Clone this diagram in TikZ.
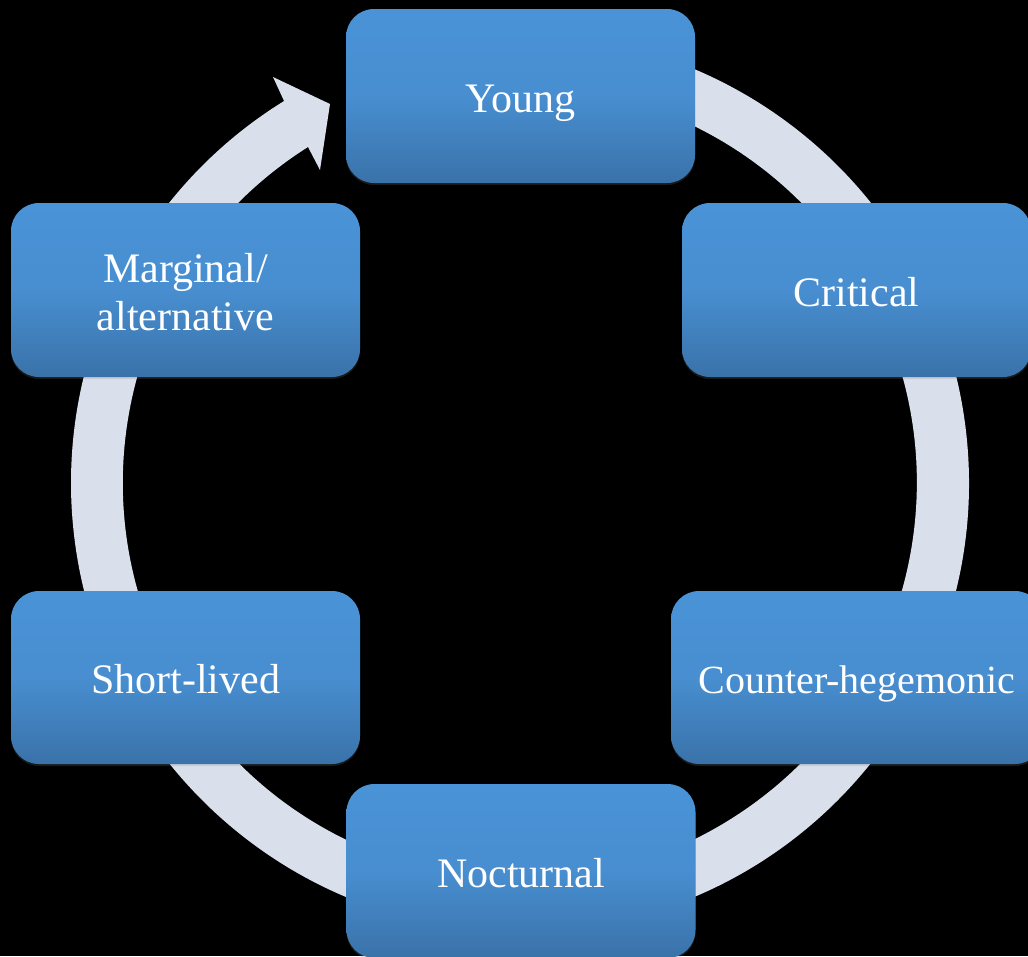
\documentclass[tikz,border=0pt]{standalone}
\usepackage{fontspec}
\setmainfont{Liberation Serif}
\usetikzlibrary{shadows}
\definecolor{ringc}{HTML}{DADFEC}
\definecolor{boxtop}{HTML}{4A93D7}
\definecolor{boxbot}{HTML}{3A72A9}
\tikzset{
  cyclebox/.style={rounded corners=28pt, minimum width=349pt, minimum height=174pt,
    top color=boxtop, bottom color=boxbot, middle color=boxtop!85!boxbot, draw=none, text=white,
    font=\fontsize{42}{48}\selectfont, align=center, inner sep=0pt,
    drop shadow={opacity=0.2, shadow xshift=0pt, shadow yshift=-2pt}},
  oneline/.style={text height=32pt, text depth=0pt},
  ring/.style={fill=ringc, draw=none}
}
\begin{document}
\begin{tikzpicture}[x=1pt,y=1pt]
\fill[black] (0,0) rectangle (1028,-956);
\useasboundingbox (0,0) rectangle (1028,-956);
\clip (0,0) rectangle (1028,-956);
\coordinate (c) at (520,-483);
% ring arrow
\fill[ring] (c) ++(95:449pt) arc[start angle=95, end angle=-238.3, radius=449pt]
  -- (273,-77) -- (330,-104) -- (320,-170) -- (308,-147)
  arc[start angle=-237.75, end angle=95, radius=397pt] -- cycle;
% boxes
\node[cyclebox, oneline] (young) at (520.5,-96) {Young};
\node[cyclebox, oneline] (critical) at (856.5,-290) {Critical};
\node[cyclebox, oneline, minimum width=372pt, minimum height=173pt, font=\fontsize{40}{48}\selectfont] (counter) at (857,-677.5) {Counter-hegemonic};
\node[cyclebox, oneline] (nocturnal) at (521,-871) {Nocturnal};
\node[cyclebox, oneline, minimum height=173pt] (short) at (185.5,-677.5) {Short-lived};
\node[cyclebox, text height=80pt, text depth=0pt] (marginal) at (185.5,-290) {Marginal/\\alternative};
\end{tikzpicture}
\end{document}
